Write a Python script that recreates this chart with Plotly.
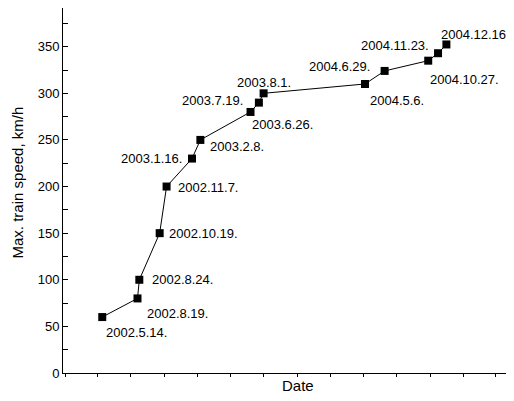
import plotly.graph_objects as go

dates = ["2002-05-14", "2002-08-19", "2002-08-24", "2002-10-19", "2002-11-07",
         "2003-01-16", "2003-02-08", "2003-06-26", "2003-07-19", "2003-08-01",
         "2004-05-06", "2004-06-29", "2004-10-27", "2004-11-23", "2004-12-16"]
speeds = [60, 80, 100, 150, 200, 230, 250, 280, 290, 300, 310, 324, 335, 343, 352.4]
labels = ["2002.5.14.", "2002.8.19.", "2002.8.24.", "2002.10.19.", "2002.11.7.",
          "2003.1.16.", "2003.2.8.", "2003.6.26.", "2003.7.19.", "2003.8.1.",
          "2004.5.6.", "2004.6.29.", "2004.10.27.", "2004.11.23.", "2004.12.16."]

# label placement styles: (xanchor, xshift, yshift)
label_style = [("left", 2, -15), ("left", 7, -15), ("left", 11, 0), ("left", 7, 0),
               ("left", 9, -1), ("right", -8, 0), ("left", 8, -7), ("left", -1, -13),
               ("right", -14, 2), ("center", 0, 11), ("left", 3, -17), ("right", -13, 4),
               ("left", 0, -19), ("right", -7, 8), ("left", -7, 10)]

FONT = "Arial, Liberation Sans, sans-serif"

fig = go.Figure()
fig.add_trace(go.Scatter(
    x=dates, y=speeds, mode="lines+markers",
    line=dict(color="black", width=1),
    marker=dict(symbol="square", size=8, color="black"),
    showlegend=False, hoverinfo="skip"))

for d, s, t, (xa, xs, ys) in zip(dates, speeds, labels, label_style):
    fig.add_annotation(x=d, y=s, text=t, showarrow=False,
                       xanchor=xa, yanchor="middle", xshift=xs, yshift=ys,
                       font=dict(family=FONT, size=13, color="black"))

fig.add_annotation(xref="paper", yref="paper", x=-0.102, y=0.522,
                   text="Max. train speed, km/h", textangle=-90, showarrow=False,
                   xanchor="center", yanchor="middle",
                   font=dict(family=FONT, size=15, color="black"))
fig.add_annotation(xref="paper", yref="paper", x=0.522, y=-0.033,
                   text="Date", showarrow=False, xanchor="center", yanchor="middle",
                   font=dict(family=FONT, size=15, color="black"))

# page body has an 8px margin, so the figure is sized to end at the window edge
fig.update_layout(
    width=506, height=393,
    margin=dict(l=55, r=0, t=0, b=28),
    paper_bgcolor="white", plot_bgcolor="white",
    font=dict(family=FONT, size=13, color="black"),
    xaxis=dict(type="date", range=["2002-01-26", "2005-06-20"],
               showgrid=False, zeroline=False, showline=True,
               linecolor="black", linewidth=1,
               tick0="2002-02-01", dtick="M3", ticks="outside", ticklen=3,
               tickcolor="black", showticklabels=False),
    yaxis=dict(range=[0, 391.5], showgrid=False, zeroline=False, showline=True,
               linecolor="black", linewidth=1,
               tickvals=[0, 50, 100, 150, 200, 250, 300, 350],
               ticks="inside", ticklen=5, tickcolor="black",
               minor=dict(tickvals=[25, 75, 125, 175, 225, 275, 325, 375],
                          ticks="inside", ticklen=5, tickcolor="black"),
               tickfont=dict(family=FONT, size=13, color="black")),
)

fig.write_html("out.html")
